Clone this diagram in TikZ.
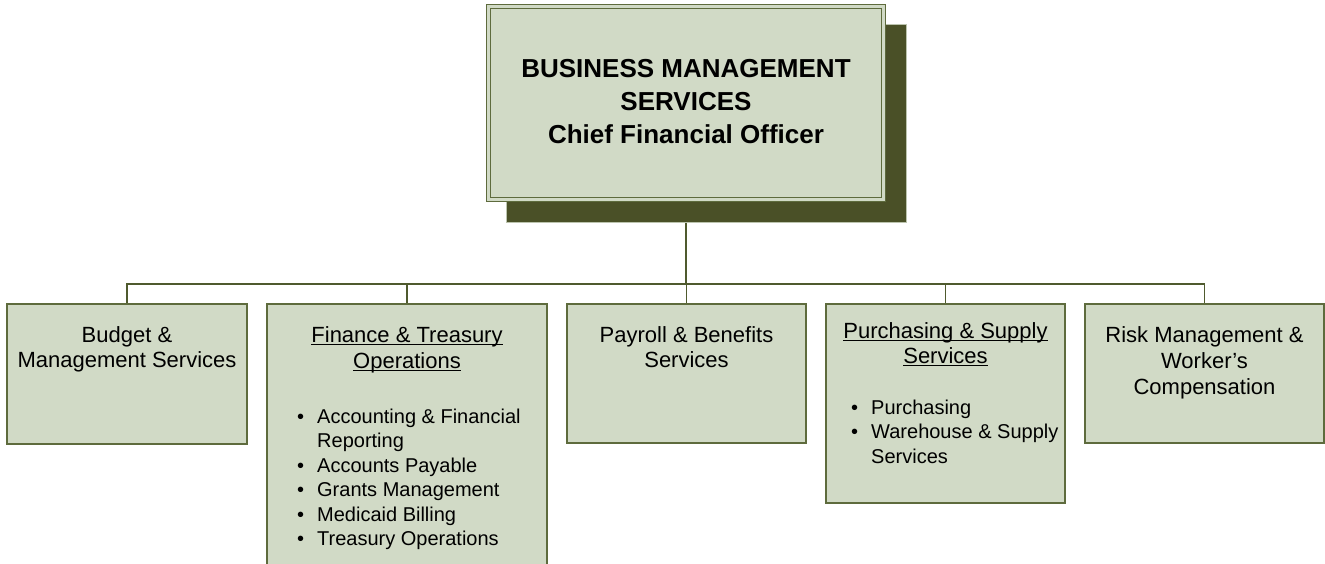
\documentclass[tikz,border=0pt]{standalone}
\usepackage{fontspec}
\setmainfont{Liberation Sans}
\usetikzlibrary{backgrounds}
\definecolor{boxfill}{HTML}{D1DAC6}
\definecolor{boxline}{HTML}{5E6B3D}
\definecolor{shadowc}{HTML}{4A5027}
\definecolor{shadowedge}{HTML}{BCC4AE}
\definecolor{connc}{HTML}{4F5A2E}
\newsavebox\ulbox
\newcommand\uln[1]{\sbox\ulbox{#1}\rlap{\rule[-3pt]{\wd\ulbox}{1.3pt}}\usebox\ulbox}
\newcommand\tstrut{\rule{0pt}{20pt}}
\newcommand\bul{\makebox[20pt][l]{\textbullet}}
\newcommand\nob{\makebox[20pt]{}}
\begin{document}
\begin{tikzpicture}[x=1pt,y=-1pt,
  subbox/.style={draw=boxline, line width=1.5pt, fill=boxfill, inner sep=0pt},
  conn/.style={draw=connc, line width=1.5pt},
  label22/.style={inner sep=0pt, anchor=north, align=center, font=\fontsize{22}{25.5}\selectfont},
  list20/.style={inner sep=0pt, anchor=north west, align=left, font=\fontsize{20}{24.5}\selectfont},
]
\useasboundingbox (0,0) rectangle (1325,563);
% top box with shadow
\node[fill=shadowc, draw=shadowedge, line width=0.8pt, minimum width=400pt, minimum height=198pt, inner sep=0pt] (shadow) at (706,123) {};
\node[draw=boxline, line width=1.5pt, double=boxfill, double distance=2.5pt, fill=boxfill, minimum width=395pt, minimum height=193pt, inner sep=0pt] (main) at (686,103) {};
\node[inner sep=0pt, anchor=north, align=center, font=\bfseries\fontsize{26}{33}\selectfont] (mainT) at (686,57) {\tstrut BUSINESS MANAGEMENT\\SERVICES\\Chief Financial Officer};
% sub boxes
\node[subbox, minimum width=240pt, minimum height=140pt] (budget) at (127,374) {};
\node[subbox, minimum width=280pt, minimum height=262pt] (fin) at (407,435) {};
\node[subbox, minimum width=239pt, minimum height=139pt] (pay) at (686.5,373.5) {};
\node[subbox, minimum width=239pt, minimum height=199pt] (pur) at (945.5,403.5) {};
\node[subbox, minimum width=239pt, minimum height=139pt] (risk) at (1204.5,373.5) {};
% texts
\node[label22] (budgetT) at (127,322) {\tstrut Budget \&\\Management Services};
\node[label22, font=\fontsize{22}{26}\selectfont] (finT) at (407,322) {\tstrut\uln{Finance \& Treasury}\\\uln{Operations}};
\node[list20] (finL) at (297,403) {\tstrut\bul Accounting \& Financial\\\nob Reporting\\\bul Accounts Payable\\\bul Grants Management\\\bul Medicaid Billing\\\bul Treasury Operations};
\node[label22] (payT) at (686.5,322) {\tstrut Payroll \& Benefits\\Services};
\node[label22, font=\fontsize{22}{25}\selectfont] (purT) at (945.5,318) {\tstrut\uln{Purchasing \& Supply}\\\uln{Services}};
\node[list20] (purL) at (851,394) {\tstrut\bul Purchasing\\\bul Warehouse \& Supply\\\nob Services};
\node[label22, font=\fontsize{22}{26}\selectfont] (riskT) at (1204.5,322) {\tstrut Risk Management \&\\Worker’s\\Compensation};
% connectors
\coordinate (bus) at (686,284);
\begin{scope}[on background layer]
\draw[conn] (main.south) -- (main.south |- bus);
\draw[conn] (budget.north) |- (bus) -| (risk.north);
\draw[conn] (fin.north) -- (fin.north |- bus);
\draw[conn] (pay.north) -- (pay.north |- bus);
\draw[conn] (pur.north) -- (pur.north |- bus);
\end{scope}
\end{tikzpicture}
\end{document}
